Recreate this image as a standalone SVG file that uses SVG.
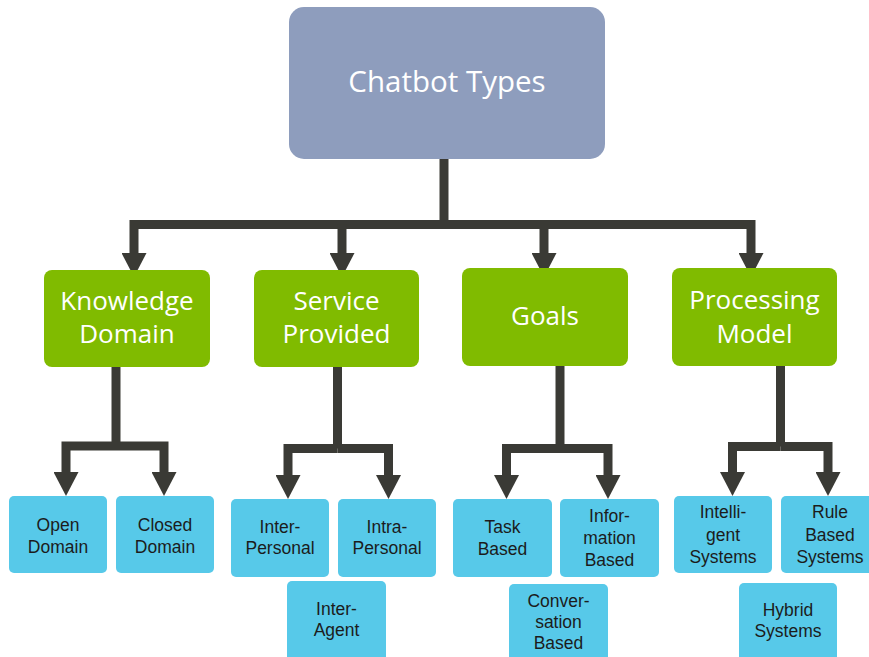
<svg xmlns="http://www.w3.org/2000/svg" width="869" height="657" viewBox="0 0 869 657">
  <defs>
    <marker id="arrow" viewBox="0 0 24 25" refX="0" refY="12.5" markerWidth="24" markerHeight="25" markerUnits="userSpaceOnUse" orient="auto">
      <path d="M0,0 L24,12.5 L0,25 Z" fill="#3a3a35"/>
    </marker>
  </defs>
  <style>
    text { font-family: "Open Sans", "Noto Sans", sans-serif; text-anchor: middle; }
    .root rect { fill: #8e9dbd; }
    .root text { fill: #ffffff; font-size: 29.5px; }
    .cat rect { fill: #80bb00; }
    .cat text { fill: #ffffff; font-size: 26px; }
    .leaf rect { fill: #57c9e9; }
    .leaf text { font-family: "Liberation Sans", Arial, sans-serif; fill: #1c1c1c; font-size: 17.5px; }
    .links path { fill: none; stroke: #3a3a35; stroke-width: 9; stroke-linejoin: miter; stroke-linecap: butt; }
    .links path.tip { marker-end: url(#arrow); }
  </style>
  <rect width="869" height="657" fill="#ffffff"/>

  <!-- connectors -->
  <g id="connectors" class="links">
    <path d="M444,159 V224.5"/>
    <path class="tip" d="M444,224.5 H134 V253"/>
    <path class="tip" d="M342,224.5 V253"/>
    <path class="tip" d="M544,224.5 V253"/>
    <path class="tip" d="M444,224.5 H751 V253"/>

    <path d="M116,367 V446"/>
    <path class="tip" d="M116,446 H66 V472"/>
    <path class="tip" d="M116,446 H164 V472"/>

    <path d="M337.5,367 V448.5"/>
    <path class="tip" d="M337.5,448.5 H288 V475"/>
    <path class="tip" d="M337.5,448.5 H388.5 V475"/>

    <path d="M560,366 V448.5"/>
    <path class="tip" d="M560,448.5 H506.5 V475"/>
    <path class="tip" d="M560,448.5 H608 V475"/>

    <path d="M780.5,366 V446.5"/>
    <path class="tip" d="M780.5,446.5 H732.5 V472"/>
    <path class="tip" d="M780.5,446.5 H828 V472"/>
  </g>

  <!-- root -->
  <g id="chatbot-types" class="root">
    <rect x="289" y="7" width="316" height="152" rx="15"/>
    <text x="447" y="92">Chatbot Types</text>
  </g>

  <!-- categories -->
  <g id="knowledge-domain" class="cat">
    <rect x="44" y="270" width="166" height="97" rx="8"/>
    <text x="127" y="310">Knowledge</text>
    <text x="127" y="343">Domain</text>
  </g>
  <g id="service-provided" class="cat">
    <rect x="254" y="270" width="165" height="97" rx="8"/>
    <text x="336.5" y="310">Service</text>
    <text x="336.5" y="343">Provided</text>
  </g>
  <g id="goals" class="cat">
    <rect x="462" y="268" width="166" height="98" rx="8"/>
    <text x="545" y="325">Goals</text>
  </g>
  <g id="processing-model" class="cat">
    <rect x="672" y="268" width="165" height="98" rx="8"/>
    <text x="754.5" y="309">Processing</text>
    <text x="754.5" y="343">Model</text>
  </g>

  <!-- leaves -->
  <g id="open-domain" class="leaf">
    <rect x="9" y="496" width="98" height="77" rx="5"/>
    <text x="58" y="531">Open</text>
    <text x="58" y="553">Domain</text>
  </g>
  <g id="closed-domain" class="leaf">
    <rect x="116" y="496" width="98" height="77" rx="5"/>
    <text x="165" y="531">Closed</text>
    <text x="165" y="553">Domain</text>
  </g>
  <g id="inter-personal" class="leaf">
    <rect x="231" y="499" width="98" height="78" rx="5"/>
    <text x="280" y="533">Inter-</text>
    <text x="280" y="554">Personal</text>
  </g>
  <g id="intra-personal" class="leaf">
    <rect x="338" y="499" width="98" height="78" rx="5"/>
    <text x="387" y="533">Intra-</text>
    <text x="387" y="554">Personal</text>
  </g>
  <g id="inter-agent" class="leaf">
    <rect x="287" y="581" width="99" height="84" rx="5"/>
    <text x="336.5" y="615">Inter-</text>
    <text x="336.5" y="636">Agent</text>
  </g>
  <g id="task-based" class="leaf">
    <rect x="453" y="499" width="99" height="78" rx="5"/>
    <text x="502.5" y="533">Task</text>
    <text x="502.5" y="555">Based</text>
  </g>
  <g id="information-based" class="leaf">
    <rect x="560" y="499" width="99" height="78" rx="5"/>
    <text x="609.5" y="522">Infor-</text>
    <text x="609.5" y="544">mation</text>
    <text x="609.5" y="566">Based</text>
  </g>
  <g id="conversation-based" class="leaf">
    <rect x="509" y="584" width="99" height="80" rx="5"/>
    <text x="558.5" y="607">Conver-</text>
    <text x="558.5" y="628">sation</text>
    <text x="558.5" y="649">Based</text>
  </g>
  <g id="intelligent-systems" class="leaf">
    <rect x="674" y="496" width="98" height="77" rx="5"/>
    <text x="723" y="518">Intelli-</text>
    <text x="723" y="541">gent</text>
    <text x="723" y="563">Systems</text>
  </g>
  <g id="rule-based-systems" class="leaf">
    <rect x="781" y="496" width="98" height="77" rx="5"/>
    <text x="830" y="518">Rule</text>
    <text x="830" y="541">Based</text>
    <text x="830" y="563">Systems</text>
  </g>
  <g id="hybrid-systems" class="leaf">
    <rect x="739" y="583" width="98" height="82" rx="5"/>
    <text x="788" y="616">Hybrid</text>
    <text x="788" y="637">Systems</text>
  </g>
</svg>
